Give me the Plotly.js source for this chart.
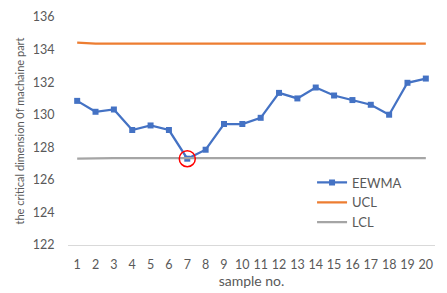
<!DOCTYPE html>
<html>
<head>
<meta charset="utf-8">
<script src="https://cdn.plot.ly/plotly-3.0.1.min.js"></script>
<style>html,body{margin:0;padding:0;background:#fff;}#chart{width:447px;height:293px;}</style>
</head>
<body>
<div id="chart"></div>
<script>
const samples = [1,2,3,4,5,6,7,8,9,10,11,12,13,14,15,16,17,18,19,20];
const eewma = [130.85,130.18,130.32,129.06,129.34,129.06,127.3,127.85,129.43,129.43,129.81,131.34,131.0,131.67,131.18,130.9,130.61,130.0,131.96,132.22];
const ucl = [134.43,134.37,134.37,134.37,134.37,134.37,134.37,134.37,134.37,134.37,134.37,134.37,134.37,134.37,134.37,134.37,134.37,134.37,134.37,134.37];
const lcl = [127.3,127.34,127.34,127.34,127.34,127.34,127.34,127.34,127.34,127.34,127.34,127.34,127.34,127.34,127.34,127.34,127.34,127.34,127.34,127.34];
const highlightSample = [7];
const highlightValue = [127.3];

const font = 'Lato, "Open Sans", sans-serif';
const traces = [
  {x: samples, y: eewma, name: 'EEWMA', type: 'scatter', mode: 'lines+markers',
   line: {color: '#4472C4', width: 2.25}, marker: {symbol: 'square', size: 6, color: '#4472C4'}},
  {x: samples, y: ucl, name: 'UCL', type: 'scatter', mode: 'lines',
   line: {color: '#ED7D31', width: 2.25}},
  {x: samples, y: lcl, name: 'LCL', type: 'scatter', mode: 'lines',
   line: {color: '#A5A5A5', width: 2.25}},
  {x: highlightSample, y: highlightValue, type: 'scatter', mode: 'markers', showlegend: false, hoverinfo: 'skip',
   marker: {symbol: 'circle-open', size: 16, color: '#FF0000', line: {width: 1.5, color: '#FF0000'}}}
];
const layout = {
  width: 447, height: 293,
  margin: {l: 68, r: 12, t: 17, b: 47.5},
  paper_bgcolor: '#fff', plot_bgcolor: '#fff',
  font: {family: font, color: '#595959', size: 12},
  showlegend: true,
  legend: {x: 0.665, y: 0.34, xanchor: 'left', yanchor: 'top', bgcolor: 'rgba(0,0,0,0)',
           font: {size: 13, color: '#595959'}, tracegroupgap: 0, itemwidth: 30},
  xaxis: {
    type: 'linear', range: [0.5, 20.5], tickmode: 'array', tickvals: samples, ticktext: samples.map(String),
    showgrid: false, zeroline: false, showline: true, linecolor: '#D9D9D9', linewidth: 1,
    ticks: 'outside', ticklen: 8, tickcolor: 'rgba(0,0,0,0)',
    tickfont: {size: 12.5, color: '#595959'},
    title: {text: 'sample no.', font: {size: 14, color: '#595959'}, standoff: 0}
  },
  yaxis: {
    range: [122, 136], tickvals: [122,124,126,128,130,132,134,136],
    showgrid: false, zeroline: false, showline: false,
    ticks: 'outside', ticklen: 10, tickcolor: 'rgba(0,0,0,0)',
    tickfont: {size: 12.5, color: '#595959'},
    title: {text: 'the critical dimension 0f machaine part', font: {size: 11, color: '#595959'}, standoff: 5}
  }
};
Plotly.newPlot('chart', traces, layout, {displayModeBar: false, staticPlot: true});
</script>
</body>
</html>
